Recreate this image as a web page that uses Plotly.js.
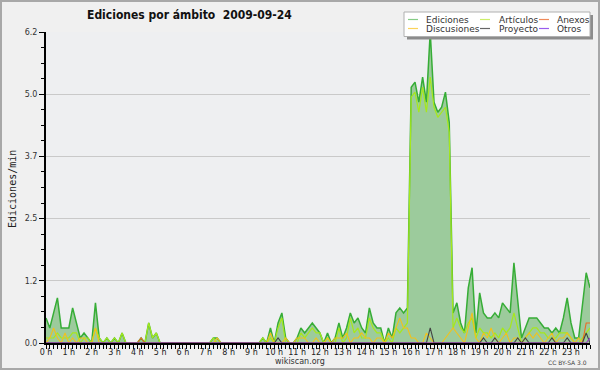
<!DOCTYPE html>
<html>
<head>
<meta charset="utf-8">
<script src="https://cdn.plot.ly/plotly-3.0.1.min.js"></script>
<style>html,body{margin:0;padding:0;background:#f0f0f0;}#chart{width:600px;height:370px;}</style>
</head>
<body>
<div id="chart"></div>
<script>
// 10-minute slots of 2009-09-24 (index 0 = 00:00, 143 = 23:50)
const slotsPerHour = 6;
const hourTicks = [0,1,2,3,4,5,6,7,8,9,10,11,12,13,14,15,16,17,18,19,20,21,22,23];
const hourLabels = ["0 h","1 h","2 h","3 h","4 h","5 h","6 h","7 h","8 h","9 h","10 h","11 h","12 h","13 h","14 h","15 h","16 h","17 h","18 h","19 h","20 h","21 h","22 h","23 h"];
const yTickVals = [0, 1.24, 2.48, 3.72, 4.96, 6.2];
const yTickText = ["0.0","1.2","2.5","3.7","5.0","6.2"];

const ediciones = [
 0.5,0.3,0.6,0.9,0.3,0.3,0.3,0.7,0.4,0.1,0.2,0.1,
 0.0,0.8,0.1,0.0,0.1,0.0,0.1,0.0,0.2,0.0,0.0,0.0,
 0.0,0.1,0.0,0.4,0.1,0.2,0.0,0.0,0.0,0.0,0.0,0.0,
 0.0,0.0,0.0,0.0,0.0,0.0,0.0,0.0,0.1,0.1,0.0,0.0,
 0.0,0.0,0.0,0.0,0.0,0.0,0.0,0.0,0.0,0.1,0.0,0.3,
 0.0,0.4,0.6,0.1,0.0,0.0,0.1,0.3,0.2,0.3,0.4,0.3,
 0.2,0.0,0.2,0.0,0.1,0.4,0.1,0.3,0.6,0.4,0.5,0.3,
 0.2,0.7,0.4,0.3,0.3,0.0,0.3,0.1,0.6,0.7,0.6,0.7,
 5.1,5.2,4.8,5.3,4.8,6.2,4.8,4.6,4.7,5.0,4.4,0.6,
 0.8,0.4,0.2,1.1,1.5,0.2,1.0,0.6,0.5,0.5,0.6,0.5,
 0.8,0.7,0.6,1.6,0.9,0.1,0.3,0.5,0.5,0.5,0.4,0.3,
 0.3,0.2,0.3,0.2,0.5,0.9,0.4,0.1,0.1,0.7,1.4,1.1
];
const articulos = [
 0.1,0.1,0.1,0.2,0.1,0.1,0.1,0.2,0.2,0.0,0.1,0.1,
 0.0,0.3,0.1,0.0,0.1,0.0,0.1,0.0,0.2,0.0,0.0,0.0,
 0.0,0.0,0.0,0.4,0.1,0.2,0.0,0.0,0.0,0.0,0.0,0.0,
 0.0,0.0,0.0,0.0,0.0,0.0,0.0,0.0,0.1,0.0,0.0,0.0,
 0.0,0.0,0.0,0.0,0.0,0.0,0.0,0.0,0.0,0.1,0.0,0.1,
 0.0,0.3,0.5,0.0,0.0,0.0,0.0,0.2,0.1,0.2,0.3,0.2,
 0.2,0.0,0.1,0.0,0.0,0.3,0.0,0.1,0.5,0.2,0.3,0.1,
 0.1,0.5,0.3,0.2,0.2,0.0,0.1,0.0,0.3,0.2,0.3,0.4,
 4.9,5.0,4.6,5.1,4.6,5.3,4.7,4.5,4.6,4.7,4.2,0.3,
 0.5,0.3,0.2,0.4,0.5,0.1,0.3,0.2,0.2,0.1,0.2,0.1,
 0.3,0.2,0.3,0.6,0.3,0.0,0.1,0.2,0.3,0.3,0.2,0.2,
 0.1,0.1,0.1,0.2,0.2,0.2,0.1,0.0,0.0,0.1,0.2,0.3
];
const discusiones = [
 0.0,0.1,0.3,0.1,0.0,0.2,0.0,0.1,0.0,0.1,0.1,0.0,
 0.0,0.3,0.0,0.0,0.0,0.0,0.0,0.0,0.0,0.0,0.0,0.0,
 0.0,0.0,0.0,0.0,0.0,0.0,0.0,0.0,0.0,0.0,0.0,0.0,
 0.0,0.0,0.0,0.0,0.0,0.0,0.0,0.0,0.0,0.1,0.0,0.0,
 0.0,0.0,0.0,0.0,0.0,0.0,0.0,0.0,0.0,0.0,0.0,0.2,
 0.0,0.0,0.0,0.1,0.0,0.0,0.1,0.1,0.1,0.0,0.0,0.1,
 0.0,0.0,0.1,0.0,0.1,0.1,0.1,0.2,0.0,0.1,0.1,0.2,
 0.1,0.1,0.0,0.1,0.1,0.0,0.2,0.1,0.3,0.5,0.3,0.3,
 0.1,0.1,0.0,0.0,0.2,0.1,0.0,0.0,0.0,0.1,0.2,0.3,
 0.2,0.1,0.0,0.3,0.6,0.1,0.0,0.2,0.1,0.3,0.1,0.0,
 0.1,0.2,0.0,0.1,0.1,0.0,0.1,0.2,0.1,0.2,0.1,0.0,
 0.1,0.2,0.0,0.1,0.1,0.2,0.1,0.0,0.1,0.0,0.0,0.1
];
const anexos = [
 0,0,0,0,0,0,0,0,0,0,0,0,
 0,0,0,0,0,0,0,0,0,0,0,0,
 0,0.1,0,0,0,0,0,0,0,0,0,0,
 0,0,0,0,0,0,0,0,0,0,0,0,
 0,0,0,0,0,0,0,0,0,0,0,0,
 0,0,0,0,0,0,0,0,0,0,0,0,
 0,0,0,0,0,0,0,0,0,0,0,0,
 0,0,0,0,0,0,0,0,0,0,0,0,
 0,0,0,0,0,0,0,0,0,0,0,0,
 0,0,0,0,0,0,0,0,0,0,0,0,
 0,0,0,0,0,0,0,0,0,0,0,0,
 0,0,0,0,0,0,0,0,0,0,0.4,0.4
];
const proyecto = [
 0,0,0,0,0,0,0,0,0,0,0,0,
 0,0,0,0,0,0,0,0,0,0,0,0,
 0,0,0,0,0,0,0,0,0,0,0,0,
 0,0,0,0,0,0,0,0,0,0,0,0,
 0,0,0,0,0,0,0,0,0,0,0,0,
 0,0.1,0,0,0,0,0,0,0,0,0,0,
 0,0,0,0,0,0,0,0,0,0,0,0,
 0,0,0,0,0,0,0,0,0,0,0,0,
 0,0,0,0,0,0.3,0,0,0,0,0,0,
 0,0,0,0,0,0,0,0.1,0,0,0.1,0,
 0,0,0,0,0.1,0,0.1,0,0,0,0,0,
 0,0.1,0,0,0,0.1,0,0,0,0,0.2,0
];
const otros = [
 0,0,0,0,0,0,0,0,0,0,0,0,
 0,0,0,0,0,0,0,0,0,0,0,0,
 0,0,0,0,0,0,0,0,0,0,0,0,
 0,0,0,0,0,0,0,0,0,0,0,0,
 0,0,0,0,0,0,0,0,0,0,0,0,
 0,0,0,0,0,0,0,0,0,0,0,0,
 0,0,0,0,0,0,0,0,0,0,0,0,
 0,0,0,0,0,0,0,0,0,0,0,0,
 0,0,0,0,0,0,0,0,0,0,0,0,
 0,0,0,0,0,0,0,0,0,0,0,0,
 0,0,0,0,0,0,0,0,0,0,0,0,
 0,0,0,0,0,0,0,0,0,0,0,0.1
];

const seriesColors = {Ediciones:"#36ad36", "Artículos":"#a6e81c", Anexos:"#ee6a22", Discusiones:"#f2c21a", Proyecto:"#444444", Otros:"#8a3be0"};
const legendColors = {Ediciones:"#86cc86", "Artículos":"#cdee6a", Anexos:"#ef8a5a", Discusiones:"#fbd35a", Proyecto:"#666666", Otros:"#9a5cee"};

const xHours = ediciones.map((_, i) => i / slotsPerHour);

const traces = [
  {x:xHours, y:ediciones, name:"Ediciones", type:"scatter", mode:"lines", fill:"tozeroy",
   fillcolor:"#9ccb9c", line:{color:seriesColors.Ediciones, width:1.5}},
  {x:xHours, y:articulos, name:"Artículos", type:"scatter", mode:"lines", line:{color:seriesColors["Artículos"], width:1.2}},
  {x:xHours, y:discusiones, name:"Discusiones", type:"scatter", mode:"lines", line:{color:seriesColors.Discusiones, width:1.1}},
  {x:xHours, y:anexos, name:"Anexos", type:"scatter", mode:"lines", line:{color:seriesColors.Anexos, width:1.1}},
  {x:xHours, y:proyecto, name:"Proyecto", type:"scatter", mode:"lines", line:{color:seriesColors.Proyecto, width:1.1}},
  {x:xHours, y:otros, name:"Otros", type:"scatter", mode:"lines", line:{color:seriesColors.Otros, width:1.1}}
];

// pixel -> paper helpers for decorations (plot area: x 46..590, y 32..343)
const L = 46, R = 10, T = 32, B = 27, W = 600, H = 370;
const pw = W - L - R, ph = H - T - B;
const px = v => (v - L) / pw;
const py = v => (H - B - v) / ph;

const shapes = [
  {type:"rect", xref:"paper", yref:"paper", x0:px(1), x1:px(599), y0:py(1), y1:py(369), line:{color:"#a8a8a8", width:2}, fillcolor:"rgba(0,0,0,0)"},
  {type:"rect", xref:"paper", yref:"paper", x0:px(407), x1:px(593), y0:py(15), y1:py(39.5), line:{width:0}, fillcolor:"#8c8c8c"},
  {type:"rect", xref:"paper", yref:"paper", x0:px(404), x1:px(590), y0:py(12), y1:py(36.5), line:{color:"#b0b0b0", width:1}, fillcolor:"#ffffff"}
];
const annotations = [];
const legendCols = [[408,424],[480,497],[539,555]];
const legendRows = [19.5, 28.5];
const legendLayout = [["Ediciones","Artículos","Anexos"],["Discusiones","Proyecto","Otros"]];
legendLayout.forEach((row, r) => row.forEach((name, c) => {
  const [gx, tx] = legendCols[c];
  const yy = legendRows[r];
  shapes.push({type:"line", xref:"paper", yref:"paper", x0:px(gx), x1:px(gx+10), y0:py(yy), y1:py(yy), line:{color:legendColors[name], width:1.2}});
  annotations.push({xref:"paper", yref:"paper", x:px(tx), y:py(yy), xanchor:"left", yanchor:"middle", showarrow:false,
    text:name, font:{family:"DejaVu Sans", size:9, color:"#333"}});
}));

annotations.push(
  {xref:"paper", yref:"paper", x:px(85), y:py(14.5), xanchor:"left", yanchor:"middle", showarrow:false,
   text:"Ediciones por ámbito\u00a0\u00a02009-09-24", font:{family:"DejaVu Sans Condensed, DejaVu Sans, sans-serif", size:12, color:"#111", weight:"bold"}},
  {xref:"paper", yref:"paper", x:px(12), y:py(189), xanchor:"center", yanchor:"middle", showarrow:false, textangle:-90,
   text:"Ediciones/min", font:{family:"DejaVu Sans Mono", size:10, color:"#222"}},
  {xref:"paper", yref:"paper", x:px(300), y:py(361.5), xanchor:"center", yanchor:"middle", showarrow:false,
   text:"wikiscan.org", font:{family:"DejaVu Sans", size:8, color:"#333"}},
  {xref:"paper", yref:"paper", x:px(589), y:py(362), xanchor:"right", yanchor:"middle", showarrow:false,
   text:"CC BY-SA 3.0", font:{family:"DejaVu Sans", size:6, color:"#444"}}
);

const layout = {
  width:W, height:H, margin:{l:L, r:R, t:T, b:B, pad:0},
  paper_bgcolor:"#f0f0f0", plot_bgcolor:"#eeeff1",
  showlegend:false,
  xaxis:{range:[0, (ediciones.length-1)/slotsPerHour], tickmode:"array", tickvals:hourTicks, ticktext:hourLabels,
    ticks:"outside", ticklen:4, tickwidth:1, tickcolor:"#000", showline:true, linecolor:"#000", linewidth:2,
    ticklabelstandoff:-4,
    showgrid:false, zeroline:false, tickfont:{family:"DejaVu Sans", size:8, color:"#222"},
    minor:{tickmode:"linear", tick0:0, dtick:1/slotsPerHour, ticks:"outside", ticklen:4, tickwidth:1, tickcolor:"#000", showgrid:false}},
  yaxis:{range:[0, 6.2], tickmode:"array", tickvals:yTickVals, ticktext:yTickText,
    ticks:"outside", ticklen:5, tickwidth:1, tickcolor:"#000", showline:true, linecolor:"#000", linewidth:2,
    showgrid:true, gridcolor:"#c9c9c9", gridwidth:1, zeroline:false, tickfont:{family:"DejaVu Sans", size:8, color:"#333"},
    minor:{tickmode:"linear", tick0:0, dtick:0.31, ticks:"outside", ticklen:3, tickwidth:1, tickcolor:"#000", showgrid:false}},
  shapes:shapes, annotations:annotations
};

Plotly.newPlot("chart", traces, layout, {displayModeBar:false, staticPlot:true});
</script>
</body>
</html>
